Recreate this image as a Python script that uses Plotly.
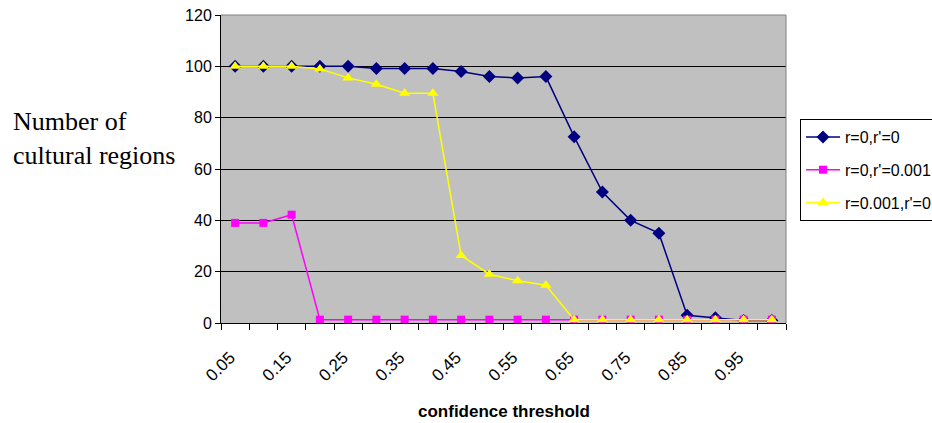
import plotly.graph_objects as go

# ---- data ----
thresholds = [0.05, 0.10, 0.15, 0.20, 0.25, 0.30, 0.35, 0.40, 0.45, 0.50,
              0.55, 0.60, 0.65, 0.70, 0.75, 0.80, 0.85, 0.90, 0.95, 1.00]
x_tick_values = [0.05, 0.15, 0.25, 0.35, 0.45, 0.55, 0.65, 0.75, 0.85, 0.95]
x_tick_labels = ["0.05", "0.15", "0.25", "0.35", "0.45", "0.55", "0.65", "0.75", "0.85", "0.95"]

series_names = ["r=0,r'=0", "r=0,r'=0.001", "r=0.001,r'=0"]
blue_vals = [100, 100, 100, 100, 100, 99.2, 99.2, 99.2, 98, 96,
             95.5, 96, 72.6, 51, 40, 35, 3, 2, 1, 1]
pink_vals = [39, 39, 42.2, 1.3, 1.3, 1.3, 1.3, 1.3, 1.3, 1.3,
             1.3, 1.3, 1.3, 1.3, 1.3, 1.3, 1.3, 1.3, 1.3, 1.3]
yellow_vals = [100, 100, 100, 99, 95.5, 93, 89.5, 89.5, 26.3, 19,
               16.5, 14.7, 1.3, 1.3, 1.3, 1.3, 1.3, 1.3, 1.3, 1.3]

y_tick_values = [0, 20, 40, 60, 80, 100, 120]

half = 0.025
boundaries = [t - half for t in thresholds] + [thresholds[-1] + half]

fig = go.Figure()
styles = [
    dict(color="#000080", symbol="diamond", size=10),
    dict(color="#FF00FF", symbol="square", size=8),
    dict(color="#FFFF00", symbol="triangle-up", size=10),
]
for name, vals, st, grp in zip(series_names, [blue_vals, pink_vals, yellow_vals], styles, ["a", "b", "c"]):
    fig.add_trace(go.Scatter(
        x=thresholds, y=vals, name=name, mode="lines+markers",
        legendgroup=grp,
        line=dict(color=st["color"], width=1.5),
        marker=dict(color=st["color"], symbol=st["symbol"], size=st["size"],
                    line=dict(width=0)),
    ))

fig.update_layout(
    width=932, height=423,
    margin=dict(l=221, r=146, t=15, b=100, autoexpand=False),
    paper_bgcolor="white",
    plot_bgcolor="#C0C0C0",
    font=dict(family="Arial, Liberation Sans, sans-serif", color="black", size=16),
    showlegend=True,
    legend=dict(
        xref="container", yref="container",
        x=800 / 932, xanchor="left", y=1 - 119 / 423, yanchor="top",
        bgcolor="white", bordercolor="black", borderwidth=1,
        font=dict(family="Arial, Liberation Sans, sans-serif", size=16, color="black"),
        tracegroupgap=9, traceorder="grouped", itemwidth=34,
    ),
    xaxis=dict(
        range=[thresholds[0] - half, thresholds[-1] + half],
        tickmode="array", tickvals=x_tick_values, ticktext=x_tick_labels,
        tickangle=-45, ticks="", showgrid=False, zeroline=False,
        showline=True, linecolor="black", linewidth=1,
        tickfont=dict(size=17), automargin=False,
        ticklabelstandoff=17, ticklabelshift=-5,
        minor=dict(tickmode="array", tickvals=boundaries, ticks="outside",
                   ticklen=6, tickcolor="black", tickwidth=1, showgrid=False),
    ),
    yaxis=dict(
        range=[0, 120], tickmode="array", tickvals=y_tick_values,
        ticks="outside", ticklen=5, tickcolor="black",
        showgrid=True, gridcolor="black", gridwidth=1, automargin=False,
        zeroline=False, showline=True, linecolor="black", linewidth=1,
        tickfont=dict(size=16),
    ),
    shapes=[
        dict(type="line", xref="paper", yref="paper", x0=0, x1=1, y0=1, y1=1,
             line=dict(color="#808080", width=1), layer="above"),
        dict(type="line", xref="paper", yref="paper", x0=1, x1=1, y0=0, y1=1,
             line=dict(color="#808080", width=1), layer="above"),
    ],
    annotations=[
        dict(text="Number of<br>cultural regions", xref="paper", yref="paper",
             x=-0.372, xanchor="left", y=0.60, yanchor="middle", align="left",
             showarrow=False,
             font=dict(family="Times New Roman, Liberation Serif, serif", size=26, color="black")),
        dict(text="<b>confidence threshold</b>", xref="paper", yref="paper",
             x=0.5, xanchor="center", y=-0.287, yanchor="middle", showarrow=False,
             font=dict(family="Arial, Liberation Sans, sans-serif", size=17, color="black")),
    ],
)

fig.write_html("out.html", config={"displayModeBar": False},
               post_script="document.body.style.margin='0';document.body.style.overflow='hidden';")
